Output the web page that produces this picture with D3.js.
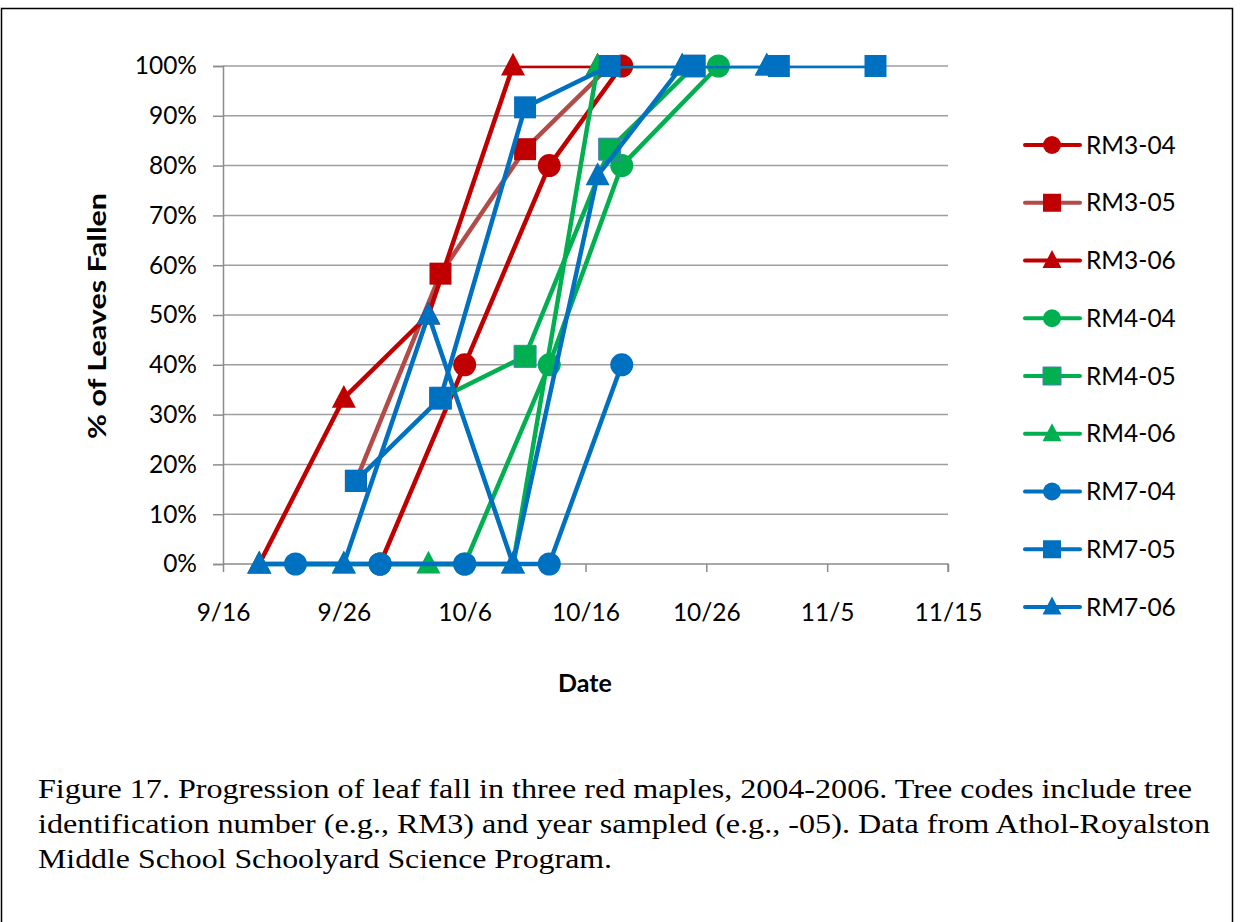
<!DOCTYPE html>
<html>
<head>
<meta charset="utf-8">
<script src="https://cdn.jsdelivr.net/npm/d3@7"></script>
<style>
  html, body { margin: 0; padding: 0; background: #fff; }
  svg { display: block; }
</style>
</head>
<body>
<svg id="chart" width="1243" height="922"></svg>
<script>
// ---------------- data ----------------
const seriesNames = ["RM3-04","RM3-05","RM3-06","RM4-04","RM4-05","RM4-06","RM7-04","RM7-05","RM7-06"];
const rm3_04_dates = ["9/29","10/6","10/13","10/19"];
const rm3_04_vals  = [0, 40, 80, 100];
const rm3_05_dates = ["9/27","10/4","10/11","10/18"];
const rm3_05_vals  = [16.7, 58.3, 83.3, 100];
const rm3_06_dates = ["9/19","9/26","10/3","10/10","10/17"];
const rm3_06_vals  = [0, 33.3, 50, 100, 100];
const rm4_04_dates = ["9/29","10/6","10/13","10/19","10/27"];
const rm4_04_vals  = [0, 0, 40, 80, 100];
const rm4_05_dates = ["10/4","10/11","10/18","10/25"];
const rm4_05_vals  = [33.3, 41.7, 83.3, 100];
const rm4_06_dates = ["9/19","9/26","10/3","10/10","10/17","10/24","10/31"];
const rm4_06_vals  = [0, 0, 0, 0, 100, 100, 100];
const rm7_04_dates = ["9/22","9/29","10/6","10/13","10/19"];
const rm7_04_vals  = [0, 0, 0, 0, 40];
const rm7_05_dates = ["9/27","10/4","10/11","10/18","10/25","11/1","11/9"];
const rm7_05_vals  = [16.7, 33.3, 91.7, 100, 100, 100, 100];
const rm7_06_dates = ["9/19","9/26","10/3","10/10","10/17","10/24","10/31"];
const rm7_06_vals  = [0, 0, 50, 0, 78, 100, 100];

const xTickLabels = ["9/16","9/26","10/6","10/16","10/26","11/5","11/15"];
const yTickValues = [0,10,20,30,40,50,60,70,80,90,100];

const captionLines = [
  "Figure 17. Progression of leaf fall in three red maples, 2004-2006. Tree codes include tree",
  "identification number (e.g., RM3) and year sampled (e.g., -05). Data from Athol-Royalston",
  "Middle School Schoolyard Science Program."
];

// ---------------- styles ----------------
const RED = "#C00000", BROWN = "#B34B48", GREEN = "#00B050", BLUE = "#0070C0";
const styles = {
  "RM3-04": {line: RED,   fill: RED,   shape: "circle"},
  "RM3-05": {line: BROWN, fill: RED,   shape: "square"},
  "RM3-06": {line: RED,   fill: RED,   shape: "triangle"},
  "RM4-04": {line: GREEN, fill: GREEN, shape: "circle"},
  "RM4-05": {line: GREEN, fill: GREEN, shape: "square", stroke: "#4A7EBB"},
  "RM4-06": {line: GREEN, fill: GREEN, shape: "triangle"},
  "RM7-04": {line: BLUE,  fill: BLUE,  shape: "circle"},
  "RM7-05": {line: BLUE,  fill: BLUE,  shape: "square"},
  "RM7-06": {line: BLUE,  fill: BLUE,  shape: "triangle"}
};

const parseMD = s => { const [m, d] = s.split("/").map(Number); return new Date(2005, m - 1, d); };
const build = (dates, vals) => dates.map((d, i) => ({date: parseMD(d), value: vals[i]}));
const series = [
  build(rm3_04_dates, rm3_04_vals), build(rm3_05_dates, rm3_05_vals), build(rm3_06_dates, rm3_06_vals),
  build(rm4_04_dates, rm4_04_vals), build(rm4_05_dates, rm4_05_vals), build(rm4_06_dates, rm4_06_vals),
  build(rm7_04_dates, rm7_04_vals), build(rm7_05_dates, rm7_05_vals), build(rm7_06_dates, rm7_06_vals)
].map((pts, i) => ({name: seriesNames[i], points: pts}));

// ---------------- layout ----------------
const svg = d3.select("#chart");
const L = 223, R = 948, T = 66, B = 564;
const FONT = "Lato, 'Open Sans', sans-serif";
const SERIF = "'Liberation Serif', Tinos, 'Times New Roman', Times, serif";

const x = d3.scaleTime().domain([parseMD("9/16"), parseMD("11/15")]).range([L, R]);
const y = d3.scaleLinear().domain([0, 100]).range([B, T]);

// frame
svg.append("rect").attr("x", 1.5).attr("y", 8.5).attr("width", 1231).attr("height", 940)
  .attr("fill", "none").attr("stroke", "#000").attr("stroke-width", 1.5);

// gridlines
svg.append("g").selectAll("line").data(yTickValues.filter(v => v > 0)).join("line")
  .attr("x1", L).attr("x2", R).attr("y1", d => y(d)).attr("y2", d => y(d))
  .attr("stroke", "#9e9e9e").attr("stroke-width", 1.5);

// y axis
const yAxis = d3.axisLeft(y).tickValues(yTickValues).tickSize(10).tickPadding(16)
  .tickFormat(d => d + "%");
const gy = svg.append("g").attr("transform", `translate(${L},0)`).call(yAxis);
gy.select(".domain").attr("stroke", "#8c8c8c").attr("stroke-width", 1.5);
gy.selectAll(".tick line").attr("stroke", "#8c8c8c").attr("stroke-width", 1.5);
gy.selectAll(".tick text").attr("font-family", FONT).attr("font-size", 24.5).attr("fill", "#000");

// x axis
const xAxis = d3.axisBottom(x).tickValues(xTickLabels.map(parseMD)).tickSize(8).tickPadding(32)
  .tickFormat(d => (d.getMonth() + 1) + "/" + d.getDate());
const gx = svg.append("g").attr("transform", `translate(0,${B})`).call(xAxis);
gx.select(".domain").attr("stroke", "#8c8c8c").attr("stroke-width", 1.5).attr("d", `M${L},0H${R}V8`);
gx.selectAll(".tick line").attr("stroke", "#8c8c8c").attr("stroke-width", 1.5);
gx.selectAll(".tick text").attr("font-family", FONT).attr("font-size", 24.5).attr("fill", "#000");

// axis titles
svg.append("text").attr("transform", "translate(106,316) rotate(-90)")
  .attr("text-anchor", "middle").attr("font-family", FONT).attr("font-weight", "bold")
  .attr("font-size", 25).attr("textLength", 246).attr("lengthAdjust", "spacingAndGlyphs")
  .text("% of Leaves Fallen");
svg.append("text").attr("x", 585).attr("y", 692).attr("text-anchor", "middle")
  .attr("font-family", FONT).attr("font-weight", "bold").attr("font-size", 25).text("Date");

// clip for lines (top edge of plot area)
svg.append("clipPath").attr("id", "plotclip").append("rect")
  .attr("x", L - 50).attr("y", T).attr("width", R - L + 100).attr("height", B - T + 50);

function symbolPath(shape, size) {
  if (shape === "circle") return d3.symbol(d3.symbolCircle, Math.PI * (size / 2) ** 2)();
  if (shape === "square") return d3.symbol(d3.symbolSquare, size * size)();
  const h = size * 0.95, w = size;
  return `M0,${-h * 0.58}L${w / 2},${h * 0.42}L${-w / 2},${h * 0.42}Z`;
}

const line = d3.line().x(d => x(d.date)).y(d => y(d.value));
const plot = svg.append("g");
series.forEach(s => {
  const st = styles[s.name];
  const g = plot.append("g");
  g.append("path").datum(s.points).attr("d", line).attr("fill", "none")
    .attr("stroke", st.line).attr("stroke-width", 4.5).attr("stroke-linejoin", "round")
    .attr("clip-path", "url(#plotclip)");
  const size = st.shape === "circle" ? 23 : (st.shape === "square" ? 22 : 24);
  g.selectAll("path.m").data(s.points).join("path").attr("class", "m")
    .attr("d", symbolPath(st.shape, size))
    .attr("transform", d => `translate(${x(d.date)},${y(d.value)})`)
    .attr("fill", st.fill)
    .attr("stroke", st.stroke || "none").attr("stroke-width", st.stroke ? 1 : 0);
});

// legend
const legY = d3.scaleLinear().domain([0, seriesNames.length - 1]).range([145, 607]);
const leg = svg.append("g");
seriesNames.forEach((name, i) => {
  const st = styles[name];
  const yy = legY(i);
  leg.append("line").attr("x1", 1025).attr("x2", 1080).attr("y1", yy).attr("y2", yy)
    .attr("stroke", st.line).attr("stroke-width", 4).attr("stroke-linecap", "round");
  const size = st.shape === "circle" ? 18 : (st.shape === "square" ? 18 : 19);
  leg.append("path").attr("d", symbolPath(st.shape, size))
    .attr("transform", `translate(1052,${yy})`).attr("fill", st.fill)
    .attr("stroke", st.stroke || "none").attr("stroke-width", st.stroke ? 1 : 0);
  leg.append("text").attr("x", 1086).attr("y", yy).attr("dy", "0.35em")
    .attr("font-family", FONT).attr("font-size", 24.5).attr("fill", "#000").text(name);
});

// caption
const capEnds = [1192, 1210, 612];
captionLines.forEach((t, i) => {
  svg.append("text").attr("x", 38).attr("y", 798 + i * 35)
    .attr("font-family", SERIF).attr("font-size", 28)
    .attr("textLength", capEnds[i] - 38).attr("lengthAdjust", "spacingAndGlyphs")
    .attr("fill", "#000").text(t);
});
</script>
</body>
</html>
